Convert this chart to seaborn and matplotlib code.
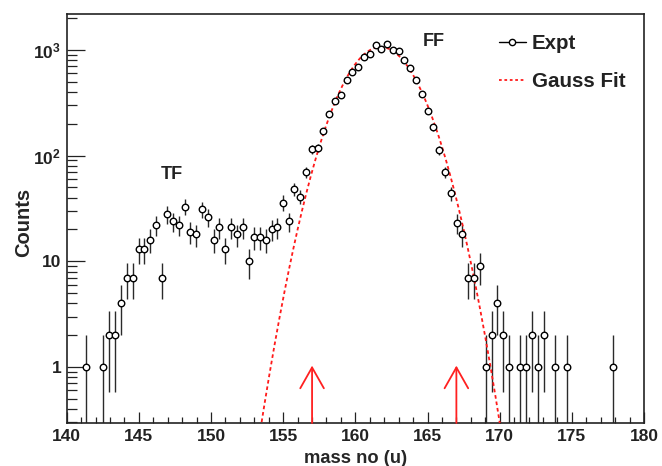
import numpy as np
import pandas as pd
import matplotlib
matplotlib.use("Agg")
import matplotlib.pyplot as plt
from matplotlib.lines import Line2D
from matplotlib.ticker import FixedLocator, MultipleLocator, NullFormatter, LogLocator
import seaborn as sns

# ---- data ----
mass = [141.35, 142.53, 142.94, 143.34, 143.75, 144.15, 144.56, 144.98, 145.36, 145.76,
        146.17, 146.57, 146.95, 147.37, 147.76, 148.18, 148.57, 148.96, 149.37, 149.77,
        150.18, 150.57, 150.99, 151.38, 151.79, 152.18, 152.60, 152.99, 153.38, 153.79,
        154.19, 154.58, 155.00, 155.38, 155.78, 156.19, 156.61, 156.97, 157.39, 157.78,
        158.20, 158.59, 158.98, 159.39, 159.79, 160.20, 160.59, 160.98, 161.40, 161.79,
        162.20, 162.60, 162.99, 163.40, 163.81, 164.19, 164.60, 165.02, 165.40, 165.82,
        166.21, 166.63, 167.04, 167.41, 167.82, 168.22, 168.63, 169.03, 169.44, 169.83,
        170.22, 170.64, 171.44, 171.83, 172.23, 172.64, 173.06, 173.84, 174.65, 177.84]
counts = [1, 1, 2, 2, 4, 7, 7, 13, 13, 16,
          22, 7, 28, 24, 22, 33, 19, 18, 31, 26,
          16, 21, 13, 21, 18, 21, 10, 17, 17, 16,
          20, 21, 36, 24, 48, 41, 70, 115, 119, 170,
          246, 331, 372, 516, 617, 695, 863, 922, 1107, 1014,
          1130, 991, 985, 797, 680, 516, 380, 265, 185, 113,
          70, 44, 23, 18, 7, 7, 9, 1, 2, 4,
          2, 1, 1, 1, 2, 1, 2, 1, 1, 1]

# Gaussian fit parameters
fit_amp = 1065.0
fit_mean = 161.75
fit_sigma = 2.04

arrow_positions = [157.0, 167.0]
x_ticks = [140, 145, 150, 155, 160, 165, 170, 175, 180]
y_ticks = [1, 10, 100, 1000]
y_ticklabels = ["1", "10", r"$10^{2}$", r"$10^{3}$"]

# ---- style ----
sns.set_theme(style="ticks")
FONT = "Liberation Sans"
plt.rcParams["font.family"] = [FONT, "DejaVu Sans"]
plt.rcParams["font.weight"] = "bold"
plt.rcParams["mathtext.fontset"] = "custom"
plt.rcParams["mathtext.rm"] = "Liberation Sans:bold"
plt.rcParams["mathtext.bf"] = "Liberation Sans:bold"
plt.rcParams["mathtext.it"] = "Liberation Sans:bold"

df = pd.DataFrame({"mass": mass, "counts": counts})
df["err"] = np.sqrt(df["counts"])

xfit = np.linspace(140, 180, 801)
fit = pd.DataFrame({"mass": xfit,
                    "counts": fit_amp * np.exp(-(xfit - fit_mean) ** 2 / (2 * fit_sigma ** 2))})

fig = plt.figure(figsize=(6.62, 4.66), dpi=100)
ax = fig.add_axes([0.1008, 0.0923, 0.8720, 0.8777])
ax.set_yscale("log", nonpositive="clip")
ylo, yhi = 0.295, 2190
ax.set_xlim(140, 180)
ax.set_ylim(ylo, yhi)

# error bars
ax.errorbar(df["mass"], df["counts"], yerr=df["err"], fmt="none",
            ecolor="#2a2a2a", elinewidth=1.0, capsize=0, zorder=2)

# fit curve
sns.lineplot(data=fit[fit["counts"] > 0.05], x="mass", y="counts", ax=ax,
             color="#ff1a1a", linewidth=1.3, linestyle=(0, (2.0, 1.6)), zorder=3,
             legend=False)

# markers
sns.scatterplot(data=df, x="mass", y="counts", ax=ax, marker="o", s=22,
                facecolor="white", edgecolor="black", linewidth=1.0, zorder=4,
                legend=False)

# arrows
for xa in arrow_positions:
    ax.annotate("", xy=(xa, 1.03), xytext=(xa, ylo),
                arrowprops=dict(arrowstyle="->,head_length=1.5,head_width=0.85",
                                color="#ff2020", lw=1.3, shrinkA=0, shrinkB=0,
                                mutation_scale=10),
                zorder=5)

# annotations
ax.text(147.31, 66, "TF", fontsize=13, fontweight="bold", ha="center", va="center",
        color="#222222")
ax.text(165.45, 1200, "FF", fontsize=13, fontweight="bold", ha="center", va="center",
        color="#222222")

# axes labels
ax.set_xlabel("mass no (u)", fontsize=13.2, fontweight="bold")
ax.set_ylabel("Counts", fontsize=14.5, fontweight="bold")
ax.xaxis.set_label_coords(0.5, -0.066)
ax.yaxis.set_label_coords(-0.059, 0.49)

# ticks
ax.xaxis.set_major_locator(FixedLocator(x_ticks))
ax.xaxis.set_minor_locator(MultipleLocator(1))
ax.set_xticklabels([str(t) for t in x_ticks])
ax.yaxis.set_major_locator(FixedLocator(y_ticks))
ax.set_yticklabels(y_ticklabels)
ax.yaxis.set_minor_locator(LogLocator(base=10, subs=np.arange(2, 10)))
ax.yaxis.set_minor_formatter(NullFormatter())
ax.tick_params(axis="both", which="both", direction="in", colors="#222222",
               labelcolor="#222222", top=False, right=False)
ax.tick_params(axis="x", which="major", length=8, width=0.9, labelsize=12.5, pad=4)
ax.tick_params(axis="x", which="minor", length=4.3, width=0.9)
ax.tick_params(axis="y", which="major", length=13, width=0.9, labelsize=12.5, pad=4)
ax.tick_params(axis="y", which="minor", length=7, width=0.9)
for lab in ax.get_xticklabels() + ax.get_yticklabels():
    lab.set_fontweight("bold")
for sp in ax.spines.values():
    sp.set_visible(True)
    sp.set_linewidth(1.2)
    sp.set_color("#222222")

# legend
handles = [Line2D([], [], color="black", lw=1.0, marker="o", markersize=4.5,
                  markerfacecolor="white", markeredgecolor="black"),
           Line2D([], [], color="#ff1a1a", lw=1.3, linestyle=(0, (1.5, 1.5)))]
leg = ax.legend(handles, ["Expt", "Gauss Fit"], loc="upper left",
                bbox_to_anchor=(0.749, 0.95), frameon=False,
                prop={"family": FONT, "weight": "bold", "size": 14.8},
                handlelength=1.3, handletextpad=0.3, labelspacing=0.92,
                borderpad=0.0, borderaxespad=0.0)
for t in leg.get_texts():
    t.set_color("#222222")

fig.savefig("out.png", dpi=100)
